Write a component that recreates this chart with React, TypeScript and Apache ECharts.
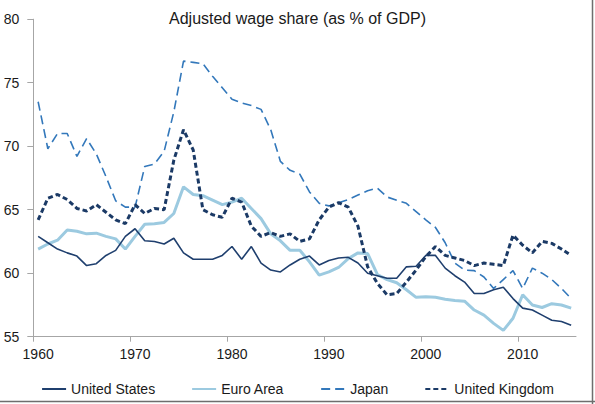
import React, { useEffect, useRef } from "react";
import * as echarts from "echarts";

const years = [
  1960, 1961, 1962, 1963, 1964, 1965, 1966, 1967, 1968, 1969,
  1970, 1971, 1972, 1973, 1974, 1975, 1976, 1977, 1978, 1979,
  1980, 1981, 1982, 1983, 1984, 1985, 1986, 1987, 1988, 1989,
  1990, 1991, 1992, 1993, 1994, 1995, 1996, 1997, 1998, 1999,
  2000, 2001, 2002, 2003, 2004, 2005, 2006, 2007, 2008, 2009,
  2010, 2011, 2012, 2013, 2014, 2015,
];

const unitedStates = [
  62.9, 62.4, 61.9, 61.6, 61.35, 60.6, 60.75, 61.4, 61.8, 62.9,
  63.5, 62.55, 62.5, 62.3, 62.75, 61.6, 61.1, 61.1, 61.1, 61.4,
  62.1, 61.1, 62.1, 60.8, 60.25, 60.1, 60.65, 61.1, 61.35, 60.65,
  61.0, 61.2, 61.25, 60.8, 60.0, 59.8, 59.6, 59.6, 60.5, 60.55,
  61.4, 61.4, 60.4, 59.8, 59.3, 58.4, 58.4, 58.7, 58.9, 58.0,
  57.25, 57.1, 56.7, 56.3, 56.2, 55.9,
];

const euroArea = [
  61.9, 62.3, 62.6, 63.4, 63.3, 63.1, 63.15, 62.9, 62.7, 61.9,
  62.9, 63.85, 63.9, 64.0, 64.7, 66.8, 66.2, 66.1, 65.75, 65.4,
  65.6, 65.9, 65.1, 64.3, 63.1, 62.55, 61.8, 61.8, 60.9, 59.85,
  60.1, 60.45, 61.15, 61.6, 61.55, 59.9, 59.5, 59.25, 58.7, 58.1,
  58.15, 58.1, 57.95, 57.85, 57.8, 57.1, 56.7, 56.05, 55.5, 56.45,
  58.3, 57.5, 57.3, 57.6, 57.5, 57.25,
];

const japan = [
  73.5, 69.8, 71.0, 71.0, 69.2, 70.6, 69.4, 67.6, 65.7, 65.2,
  65.2, 68.4, 68.6, 69.6, 72.7, 76.7, 76.6, 76.5, 75.5, 74.6,
  73.7, 73.4, 73.2, 72.9, 71.3, 68.8, 68.1, 67.8, 66.4, 65.5,
  65.3, 65.55, 65.8, 66.15, 66.5, 66.7, 66.0, 65.75, 65.5, 64.85,
  64.2, 63.6, 62.4, 60.8, 60.25, 60.2, 59.7, 58.8, 59.5, 60.2,
  58.8, 60.4, 60.0, 59.5, 58.8, 58.0,
];

const unitedKingdom = [
  64.2, 65.9, 66.2, 65.8, 65.1, 64.9, 65.4, 64.8, 64.2, 63.9,
  65.4, 64.7, 65.1, 65.0, 68.9, 71.3, 69.7, 65.0, 64.6, 64.4,
  65.9, 65.6, 63.7, 62.9, 63.2, 62.9, 63.1, 62.5, 62.7, 64.2,
  65.2, 65.55, 65.2, 63.7, 60.5, 59.2, 58.3, 58.4, 59.3, 60.25,
  61.3, 62.1, 61.4, 61.2, 61.0, 60.6, 60.8, 60.7, 60.6, 63.0,
  62.2, 61.6, 62.5, 62.35, 61.9, 61.4,
];

const seriesNames = ["United States", "Euro Area", "Japan", "United Kingdom"];
const xTickValues = [1960, 1970, 1980, 1990, 2000, 2010];
const yTickValues = [55, 60, 65, 70, 75, 80];
const titleText = "Adjusted wage share (as % of GDP)";

const FONT = "'Liberation Sans', Arial, Helvetica, sans-serif";
const TEXT = "#1a1a1a";

function pairs(vals: number[]) {
  // each annual observation sits at the middle of its year band
  return vals.map((v, i) => [years[i] + 0.5, v]);
}

export default function App() {
  const ref = useRef<HTMLDivElement>(null);

  useEffect(() => {
    if (!ref.current) return;
    const chart = echarts.init(ref.current, null, { renderer: "svg" });
    const option = {
      animation: false,
      backgroundColor: "#ffffff",
      title: {
        text: titleText,
        left: "center",
        top: 5,
        textStyle: { fontFamily: FONT, fontSize: 16, fontWeight: "normal", color: TEXT },
      },
      grid: { left: 33.3, right: 19, top: 19.2, bottom: 67.3, containLabel: false },
      legend: {
        data: seriesNames,
        left: "center",
        top: 377,
        itemWidth: 24,
        itemHeight: 14,
        itemGap: 36,
        itemStyle: { opacity: 0 },
        textStyle: { fontFamily: FONT, fontSize: 14, color: TEXT },
      },
      xAxis: {
        type: "value",
        min: 1960,
        max: 2016,
        interval: 10,
        axisLine: { show: true, lineStyle: { color: "#a6a6a6", width: 1 } },
        axisTick: { show: true, length: 5, lineStyle: { color: "#a6a6a6" }, customValues: xTickValues },
        axisLabel: {
          customValues: xTickValues.map((v) => v + 0.5),
          formatter: (v: number) => String(Math.floor(v)),
          fontFamily: FONT,
          fontSize: 14,
          color: TEXT,
          margin: 10,
        },
        splitLine: { show: false },
      },
      yAxis: {
        type: "value",
        min: 55,
        max: 80,
        interval: 5,
        axisLine: { show: true, lineStyle: { color: "#a6a6a6", width: 1 } },
        axisTick: { show: true, length: 6, lineStyle: { color: "#a6a6a6" }, customValues: yTickValues },
        axisLabel: { customValues: yTickValues, fontFamily: FONT, fontSize: 14, color: TEXT, margin: 14 },
        splitLine: { show: false },
      },
      series: [
        {
          name: seriesNames[0],
          type: "line",
          data: pairs(unitedStates),
          symbol: "none",
          lineStyle: { color: "#1f3f6e", width: 1.6 },
          itemStyle: { color: "#1f3f6e" },
          z: 3,
        },
        {
          name: seriesNames[1],
          type: "line",
          data: pairs(euroArea),
          symbol: "none",
          lineStyle: { color: "#9ccae0", width: 3 },
          itemStyle: { color: "#9ccae0" },
          z: 2,
        },
        {
          name: seriesNames[2],
          type: "line",
          data: pairs(japan),
          symbol: "none",
          lineStyle: { color: "#3378bb", width: 1.6, type: [9, 5] },
          itemStyle: { color: "#3378bb" },
          z: 4,
        },
        {
          name: seriesNames[3],
          type: "line",
          data: pairs(unitedKingdom),
          symbol: "none",
          lineStyle: { color: "#1b3a66", width: 3, type: [5, 3] },
          itemStyle: { color: "#1b3a66" },
          z: 5,
        },
      ],
      graphic: [
        { type: "line", shape: { x1: 592.5, y1: 0, x2: 592.5, y2: 404 }, style: { stroke: "#6e6e6e", lineWidth: 1.5 } },
        { type: "line", shape: { x1: 0, y1: 401.5, x2: 595, y2: 401.5 }, style: { stroke: "#6e6e6e", lineWidth: 1.5 } },
      ],
    };
    chart.setOption(option as any);
    return () => chart.dispose();
  }, []);

  return (
    <div
      ref={ref}
      style={{ position: "fixed", left: 0, top: 0, width: 595, height: 404 }}
    />
  );
}
